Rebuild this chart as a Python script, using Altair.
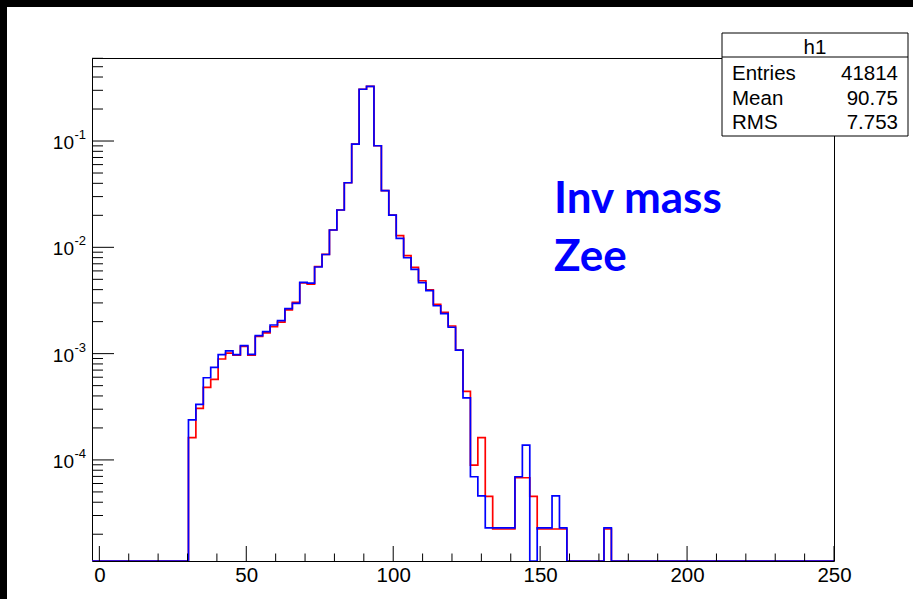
import numpy as np
import pandas as pd
import altair as alt

# ---------------- data ----------------
X_MIN, X_MAX, N_BINS = -2.5, 250.0, 100
Y_MIN, Y_MAX = 1.12e-5, 0.604

blue_values = [
    0, 0, 0, 0, 0, 0, 0, 0, 0, 0,
    0, 0, 0, 2.38e-4, 3.33e-4, 5.93e-4, 7.43e-4, 9.77e-4, 1.06e-3, 9.77e-4,
    1.19e-3, 9.86e-4, 1.48e-3, 1.61e-3, 1.86e-3, 2.04e-3, 2.65e-3, 2.97e-3, 4.69e-3, 4.60e-3,
    6.53e-3, 8.56e-3, 1.455e-2, 2.244e-2, 4.05e-2, 9.37e-2, 0.307, 0.327, 9.03e-2, 3.41e-2,
    2.01e-2, 1.216e-2, 7.98e-3, 6.21e-3, 4.65e-3, 3.91e-3, 2.82e-3, 2.38e-3, 1.77e-3, 1.08e-3,
    3.83e-4, 6.95e-5, 4.6e-5, 2.3e-5, 2.3e-5, 2.3e-5, 2.3e-5, 6.95e-5, 1.38e-4, 0,
    2.3e-5, 2.3e-5, 4.6e-5, 2.3e-5, 0, 0, 0, 0, 0, 2.3e-5,
    0, 0, 0, 0, 0, 0, 0, 0, 0, 0,
    0, 0, 0, 0, 0, 0, 0, 0, 0, 0,
    0, 0, 0, 0, 0, 0, 0, 0, 0, 0,
]

red_values = [
    0, 0, 0, 0, 0, 0, 0, 0, 0, 0,
    0, 0, 0, 1.62e-4, 3.06e-4, 4.82e-4, 5.73e-4, 8.9e-4, 1.01e-3, 9.7e-4,
    1.17e-3, 9.65e-4, 1.45e-3, 1.57e-3, 1.79e-3, 1.98e-3, 2.58e-3, 3.03e-3, 4.62e-3, 4.50e-3,
    6.60e-3, 8.60e-3, 1.455e-2, 2.244e-2, 4.05e-2, 9.37e-2, 0.307, 0.327, 9.03e-2, 3.41e-2,
    2.01e-2, 1.286e-2, 8.34e-3, 6.49e-3, 4.85e-3, 3.99e-3, 2.91e-3, 2.45e-3, 1.82e-3, 1.08e-3,
    4.42e-4, 8.95e-5, 1.62e-4, 4.55e-5, 2.24e-5, 2.24e-5, 2.24e-5, 6.8e-5, 6.8e-5, 4.55e-5,
    2.24e-5, 2.24e-5, 2.24e-5, 2.24e-5, 0, 0, 0, 0, 0, 2.24e-5,
    0, 0, 0, 0, 0, 0, 0, 0, 0, 0,
    0, 0, 0, 0, 0, 0, 0, 0, 0, 0,
    0, 0, 0, 0, 0, 0, 0, 0, 0, 0,
]

x_tick_labels = [0, 50, 100, 150, 200, 250]
x_minor_ticks = [v for v in range(0, 251, 10) if v % 50 != 0]
y_exponents = [-1, -2, -3, -4]

stats_title = "h1"
stats_names = ["Entries", "Mean", "RMS"]
stats_values = ["41814", "90.75", "7.753"]
note_lines = ["Inv mass", "Zee"]

# ---------------- layout ----------------
W, H = 742, 503
PAD = {"left": 92, "top": 58, "right": 79, "bottom": 38}
FONT = "Liberation Sans"

edges = np.linspace(X_MIN, X_MAX, N_BINS + 1)


def hist_df(vals):
    v = list(np.maximum(np.array(vals, dtype=float), Y_MIN))
    return pd.DataFrame({"x": edges, "y": v + [v[-1]]})


xscale = alt.Scale(domain=[X_MIN, X_MAX], nice=False, zero=False)
yscale = alt.Scale(type="log", domain=[Y_MIN, Y_MAX], nice=False)
xaxis = alt.Axis(values=x_tick_labels, format="d", ticks=False, domain=False, grid=False,
                 labelFontSize=20.5, labelFont=FONT, labelColor="black", labelPadding=4,
                 labelFlush=False, title=None)


def X(field):
    return alt.X(field, type="quantitative", scale=xscale, axis=xaxis, title=None)


def Y(field):
    return alt.Y(field, type="quantitative", scale=yscale, axis=None, title=None)


def hist(vals, color):
    return alt.Chart(hist_df(vals)).mark_line(
        interpolate="step-after", color=color, strokeWidth=1.7, clip=True
    ).encode(x=X("x"), y=Y("y"))


def one(s):
    return pd.DataFrame({"t": [s]})


def txt(s, x, y, size, align="left", color="black", bold=False, font=FONT, dy=0):
    return alt.Chart(one(s)).mark_text(
        align=align, baseline="middle", fontSize=size, font=font, color=color,
        fontWeight="bold" if bold else "normal", dy=dy
    ).encode(x=alt.value(x), y=alt.value(y), text="t:N")


def rect(x, x2, y, y2, fill, stroke=None):
    kw = {"fill": fill}
    if stroke:
        kw.update(stroke=stroke, strokeWidth=1)
    else:
        kw.update(strokeWidth=0)
    return alt.Chart(one("r")).mark_rect(**kw).encode(
        x=alt.value(x), x2=alt.value(x2), y=alt.value(y), y2=alt.value(y2))


# ticks (inside the frame, ROOT style)
xmaj = alt.Chart(pd.DataFrame({"tx": x_tick_labels})).mark_rule(color="black", strokeWidth=1).encode(
    x=X("tx"), y=alt.value(H), y2=alt.value(H - 15))
xmin = alt.Chart(pd.DataFrame({"tx": x_minor_ticks})).mark_rule(color="black", strokeWidth=1).encode(
    x=X("tx"), y=alt.value(H), y2=alt.value(H - 7.5))

ymaj_pos = [10.0 ** e for e in y_exponents]
ymin_pos = [m * 10.0 ** e for e in range(-5, 0) for m in range(2, 10)
            if Y_MIN <= m * 10.0 ** e <= Y_MAX]
ymaj = alt.Chart(pd.DataFrame({"ty": ymaj_pos})).mark_rule(color="black", strokeWidth=1).encode(
    y=Y("ty"), x=alt.value(0), x2=alt.value(22))
ymin = alt.Chart(pd.DataFrame({"ty": ymin_pos})).mark_rule(color="black", strokeWidth=1).encode(
    y=Y("ty"), x=alt.value(0), x2=alt.value(11))

ylab_df = pd.DataFrame({"ty": ymaj_pos, "base": ["10"] * len(y_exponents),
                        "exp": [str(e) for e in y_exponents]})
ylab_base = alt.Chart(ylab_df).mark_text(align="right", baseline="middle", fontSize=19,
                                         font=FONT, color="black", dy=2).encode(
    y=Y("ty"), x=alt.value(-18), text="base:N")
ylab_exp = alt.Chart(ylab_df).mark_text(align="left", baseline="middle", fontSize=13,
                                        font=FONT, color="black", dy=-6).encode(
    y=Y("ty"), x=alt.value(-17.5), text="exp:N")

# black strips of the screenshot border
strip_top = rect(-PAD["left"], W + PAD["right"], -PAD["top"], -PAD["top"] + 7, "black")
strip_left = rect(-PAD["left"], -PAD["left"] + 7, -PAD["top"], H + PAD["bottom"], "black")

# stats box
bx0, bx1, by0, by1, bsep = 722 - 92, 908 - 92, 33 - 58, 136 - 58, 57 - 58
box = rect(bx0, bx1, by0, by1, "white", stroke="black")
box_sep = alt.Chart(one("s")).mark_rule(color="black", strokeWidth=1).encode(
    x=alt.value(bx0), x2=alt.value(bx1), y=alt.value(bsep))
stat_layers = [txt(stats_title, (bx0 + bx1) / 2, by0 + 15, 20.5, align="center")]
for i, (n, v) in enumerate(zip(stats_names, stats_values)):
    yy = 74 - 58 + i * 24.5
    stat_layers.append(txt(n, bx0 + 10, yy, 20.5))
    stat_layers.append(txt(v, bx1 - 10, yy, 20.5, align="right"))

note_layers = [
    txt(note_lines[0], 554 - 92, 200 - 58, 44, color="#0000ff", bold=True, font="Lato"),
    txt(note_lines[1], 554 - 92, 258 - 58, 44, color="#0000ff", bold=True, font="Lato"),
]

chart = alt.layer(
    hist(red_values, "#ff0000"),
    hist(blue_values, "#0000ff"),
    xmaj, xmin, ymaj, ymin, ylab_base, ylab_exp,
    strip_top, strip_left, box, box_sep, *stat_layers, *note_layers,
).properties(
    width=W, height=H, padding=PAD,
    autosize=alt.AutoSizeParams(type="none"),
    background="white",
).configure_view(stroke="black", strokeWidth=1)

chart.save("out.html", embed_options={"renderer": "svg", "actions": False})
